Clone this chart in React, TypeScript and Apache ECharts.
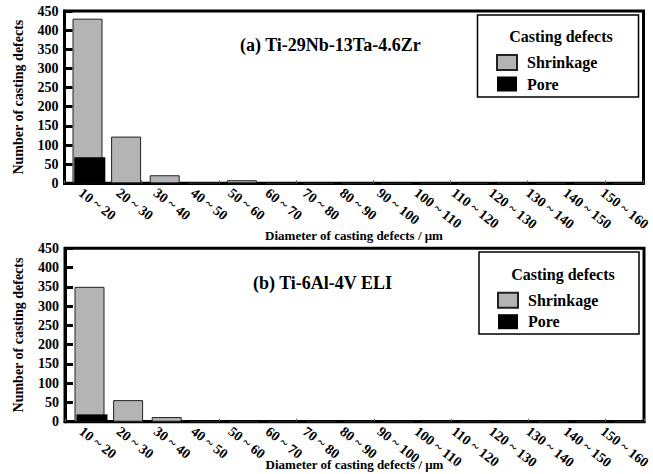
import React, { useEffect, useRef } from "react";
import * as echarts from "echarts";

// ---- data ----
const categories = [
  "10 ~ 20", "20 ~ 30", "30 ~ 40", "40 ~ 50", "50 ~ 60", "60 ~ 70", "70 ~ 80", "80 ~ 90",
  "90 ~ 100", "100 ~ 110", "110 ~ 120", "120 ~ 130", "130 ~ 140", "140 ~ 150", "150 ~ 160",
];
const shrinkageA = [430, 122, 21, 1, 8, 0, 0, 0, 0, 0, 0, 1, 0, 0, 0];
const poreA = [68, 0, 0, 0, 0, 0, 0, 0, 0, 0, 0, 2, 0, 0, 0];
const shrinkageB = [350, 56, 12, 0, 0, 0, 0, 0, 0, 0, 0, 0, 0, 0, 0];
const poreB = [19, 0, 0, 0, 0, 0, 0, 0, 0, 0, 0, 0, 0, 0, 0];
const yMin = 0;
const yMax = 450;
const yStep = 50;
const panelTitles = ["(a) Ti-29Nb-13Ta-4.6Zr", "(b) Ti-6Al-4V ELI"];
const seriesNames = ["Shrinkage", "Pore"];
const legendTitle = "Casting defects";
const xName = "Diameter of casting defects / μm";
const yName = "Number of casting defects";

const FONT = "Liberation Serif, serif";

const panels = [
  {
    top: 11, bottom: 290.7, left: 64.5, right: 9.5,
    shrinkShift: 3.7, poreShift: 6, xNameGap: 46,
    box: { x: 477.5, y: 15, w: 161, h: 82 }, headingX: 561, headingY: 36,
    legendLeft: 496, legendTop: 54, titleLeft: 240, titleTop: 36,
    shrink: shrinkageA, pore: poreA,
  },
  {
    top: 248.3, bottom: 52.3, left: 65, right: 9,
    shrinkShift: 5.2, poreShift: 7.7, xNameGap: 36,
    box: { x: 479, y: 252, w: 160, h: 82 }, headingX: 563, headingY: 274.3,
    legendLeft: 497, legendTop: 291.7, titleLeft: 253, titleTop: 274,
    shrink: shrinkageB, pore: poreB,
  },
];

function buildOption() {
  const grid: any[] = [];
  const xAxis: any[] = [];
  const yAxis: any[] = [];
  const series: any[] = [];
  const legend: any[] = [];
  const title: any[] = [];
  const graphic: any[] = [];

  panels.forEach((p, pi) => {
    const base = pi * 4;
    const mk = (dl: number, dr: number, show: boolean) => ({
      left: p.left + dl,
      right: p.right + dr,
      top: p.top,
      bottom: p.bottom,
      show,
      borderColor: "#000",
      borderWidth: 3,
      containLabel: false,
    });
    grid.push(
      mk(0, 0, true),
      mk(p.shrinkShift, -p.shrinkShift, false),
      mk(p.poreShift, -p.poreShift, false),
      mk(-2.5, 10, false)
    );

    // frame axes
    xAxis.push({
      type: "category", gridIndex: base, data: categories, boundaryGap: true,
      axisLine: { show: true, lineStyle: { color: "#000", width: 3 } },
      axisTick: { show: true, inside: true, length: 3, lineStyle: { color: "#666", width: 1 } },
      axisLabel: { show: false },
      name: xName, nameLocation: "middle", nameGap: p.xNameGap,
      nameTextStyle: { fontFamily: FONT, fontWeight: "bold", fontSize: 13, color: "#000" },
    });
    yAxis.push({
      type: "value", gridIndex: base, min: yMin, max: yMax, interval: yStep,
      axisLine: { show: true, lineStyle: { color: "#000", width: 3 } },
      axisTick: { show: true, inside: true, length: 8, lineStyle: { color: "#000", width: 3 } },
      axisLabel: { fontFamily: FONT, fontWeight: "bold", fontSize: 14, color: "#000", margin: 6 },
      splitLine: { show: false },
      name: yName, nameLocation: "middle", nameGap: 39.5,
      nameTextStyle: { fontFamily: FONT, fontWeight: "bold", fontSize: 14, color: "#000" },
    });
    // shrinkage axes
    xAxis.push({ type: "category", gridIndex: base + 1, data: categories, show: false });
    yAxis.push({ type: "value", gridIndex: base + 1, min: yMin, max: yMax, interval: yStep, show: false, splitLine: { show: false } });
    // pore axes
    xAxis.push({ type: "category", gridIndex: base + 2, data: categories, show: false });
    yAxis.push({ type: "value", gridIndex: base + 2, min: yMin, max: yMax, interval: yStep, show: false, splitLine: { show: false } });
    // label axes
    xAxis.push({
      type: "category", gridIndex: base + 3, data: categories,
      axisLine: { show: false }, axisTick: { show: false },
      axisLabel: {
        interval: 0, rotate: -38, margin: 8,
        fontFamily: FONT, fontWeight: "bold", fontSize: 14, color: "#000",
      },
    });
    yAxis.push({ type: "value", gridIndex: base + 3, min: yMin, max: yMax, interval: yStep, show: false, splitLine: { show: false } });

    series.push({
      name: seriesNames[0], type: "bar", xAxisIndex: base + 1, yAxisIndex: base + 1,
      data: p.shrink, barWidth: 30,
      itemStyle: { color: "#b4b4b4", borderColor: "#222", borderWidth: 1 },
      z: 2,
    });
    series.push({
      name: seriesNames[1], type: "bar", xAxisIndex: base + 2, yAxisIndex: base + 2,
      data: p.pore, barWidth: 31,
      itemStyle: { color: "#000" },
      z: 3,
    });

    legend.push({
      orient: "vertical", left: p.legendLeft, top: p.legendTop, padding: 0,
      itemWidth: 20, itemHeight: 15, itemGap: 5, icon: "rect",
      data: seriesNames,
      textStyle: { fontFamily: FONT, fontWeight: "bold", fontSize: 16, color: "#000", lineHeight: 15, padding: [0, 0, 0, 5] },
    });

    title.push({
      text: panelTitles[pi], left: p.titleLeft, top: p.titleTop, padding: 0,
      textStyle: { fontFamily: FONT, fontWeight: "bold", fontSize: 18, color: "#000" },
    });

    graphic.push({
      type: "rect", z: 1,
      shape: { x: p.box.x, y: p.box.y, width: p.box.w, height: p.box.h },
      style: { fill: "transparent", stroke: "#000", lineWidth: 1.5 },
    });
    graphic.push({
      type: "text", z: 1, x: p.headingX, y: p.headingY,
      style: {
        text: legendTitle, align: "center", verticalAlign: "middle",
        fontFamily: FONT, fontWeight: "bold", fontSize: 16, fill: "#000",
      },
    });
  });

  return {
    animation: false,
    backgroundColor: "#fff",
    textStyle: { fontFamily: FONT },
    grid, xAxis, yAxis, series, legend, title, graphic,
  };
}

export default function App() {
  const ref = useRef<HTMLDivElement>(null);
  useEffect(() => {
    document.body.style.margin = "0";
    if (!ref.current) return;
    const chart = echarts.init(ref.current, undefined, { renderer: "svg" });
    chart.setOption(buildOption() as any);
    return () => chart.dispose();
  }, []);
  return <div ref={ref} style={{ width: 653, height: 474 }} />;
}
